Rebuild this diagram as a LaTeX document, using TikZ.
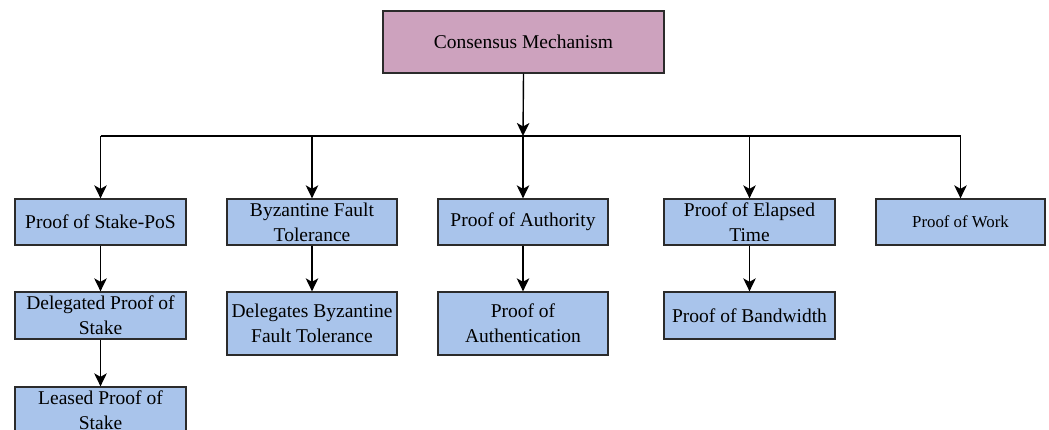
\documentclass[tikz,border=0pt]{standalone}
\usepackage{fontspec}
\setmainfont{Liberation Serif}
\usetikzlibrary{arrows.meta}
\definecolor{rootfill}{HTML}{CDA2BE}
\definecolor{leaffill}{HTML}{A9C4EB}
\definecolor{edge}{HTML}{2B2B2B}
\begin{document}
\begin{tikzpicture}[x=1pt,y=-1pt,
  box/.style={draw=edge, line width=1.3pt, fill=leaffill, inner sep=0pt,
    align=center, font=\fontsize{19.5}{25}\selectfont},
  rootbox/.style={box, fill=rootfill},
  link/.style={line width=1.4pt, -{Stealth[length=13pt,width=12.5pt,inset=3.5pt]}},
  bus/.style={line width=1.4pt}]
\useasboundingbox (0,0) rectangle (1049,430);

% root
\node[rootbox, minimum width=281pt, minimum height=62pt] (root) at (523.5,42) {Consensus Mechanism};

% first level
\node[box, minimum width=171pt, minimum height=46pt] (pos) at (100.5,222) {Proof of Stake-PoS};
\node[box, minimum width=170pt, minimum height=46pt] (bft) at (312,222) {Byzantine Fault\\Tolerance};
\node[box, minimum width=170pt, minimum height=46pt] (poa) at (523,222) {Proof of Authority};
\node[box, minimum width=171pt, minimum height=46pt] (poet) at (749.5,222) {Proof of Elapsed\\Time};
\node[box, minimum width=169pt, minimum height=46pt, font=\fontsize{16.8}{21}\selectfont] (pow) at (960.5,222) {Proof of Work};

% second level
\node[box, minimum width=171pt, minimum height=47pt] (dpos) at (100.5,315.5) {Delegated Proof of\\Stake};
\node[box, minimum width=170pt, minimum height=63pt] (dbft) at (312,323.5) {Delegates Byzantine\\Fault Tolerance};
\node[box, minimum width=170pt, minimum height=63pt] (poauth) at (523,323.5) {Proof of\\Authentication};
\node[box, minimum width=171pt, minimum height=47pt] (pob) at (749.5,315.5) {Proof of Bandwidth};

% third level
\node[box, minimum width=171pt, minimum height=46pt] (lpos) at (100.5,410) {Leased Proof of\\Stake};

% distribution bus
\coordinate (hub) at (523,136);
\coordinate (busL) at (100.5,136);
\coordinate (busB) at (312,136);
\coordinate (busE) at (749.5,136);
\coordinate (busR) at (960.5,136);

\draw[link] (root.south) -- (hub);
\draw[bus] (busL) -- (busR);
\draw[link] (busL) -- (pos.north);
\draw[link] (busB) -- (bft.north);
\draw[link] (hub) -- (poa.north);
\draw[link] (busE) -- (poet.north);
\draw[link] (busR) -- (pow.north);

\draw[link] (pos.south) -- (dpos.north);
\draw[link] (dpos.south) -- (lpos.north);
\draw[link] (bft.south) -- (dbft.north);
\draw[link] (poa.south) -- (poauth.north);
\draw[link] (poet.south) -- (pob.north);
\end{tikzpicture}
\end{document}
